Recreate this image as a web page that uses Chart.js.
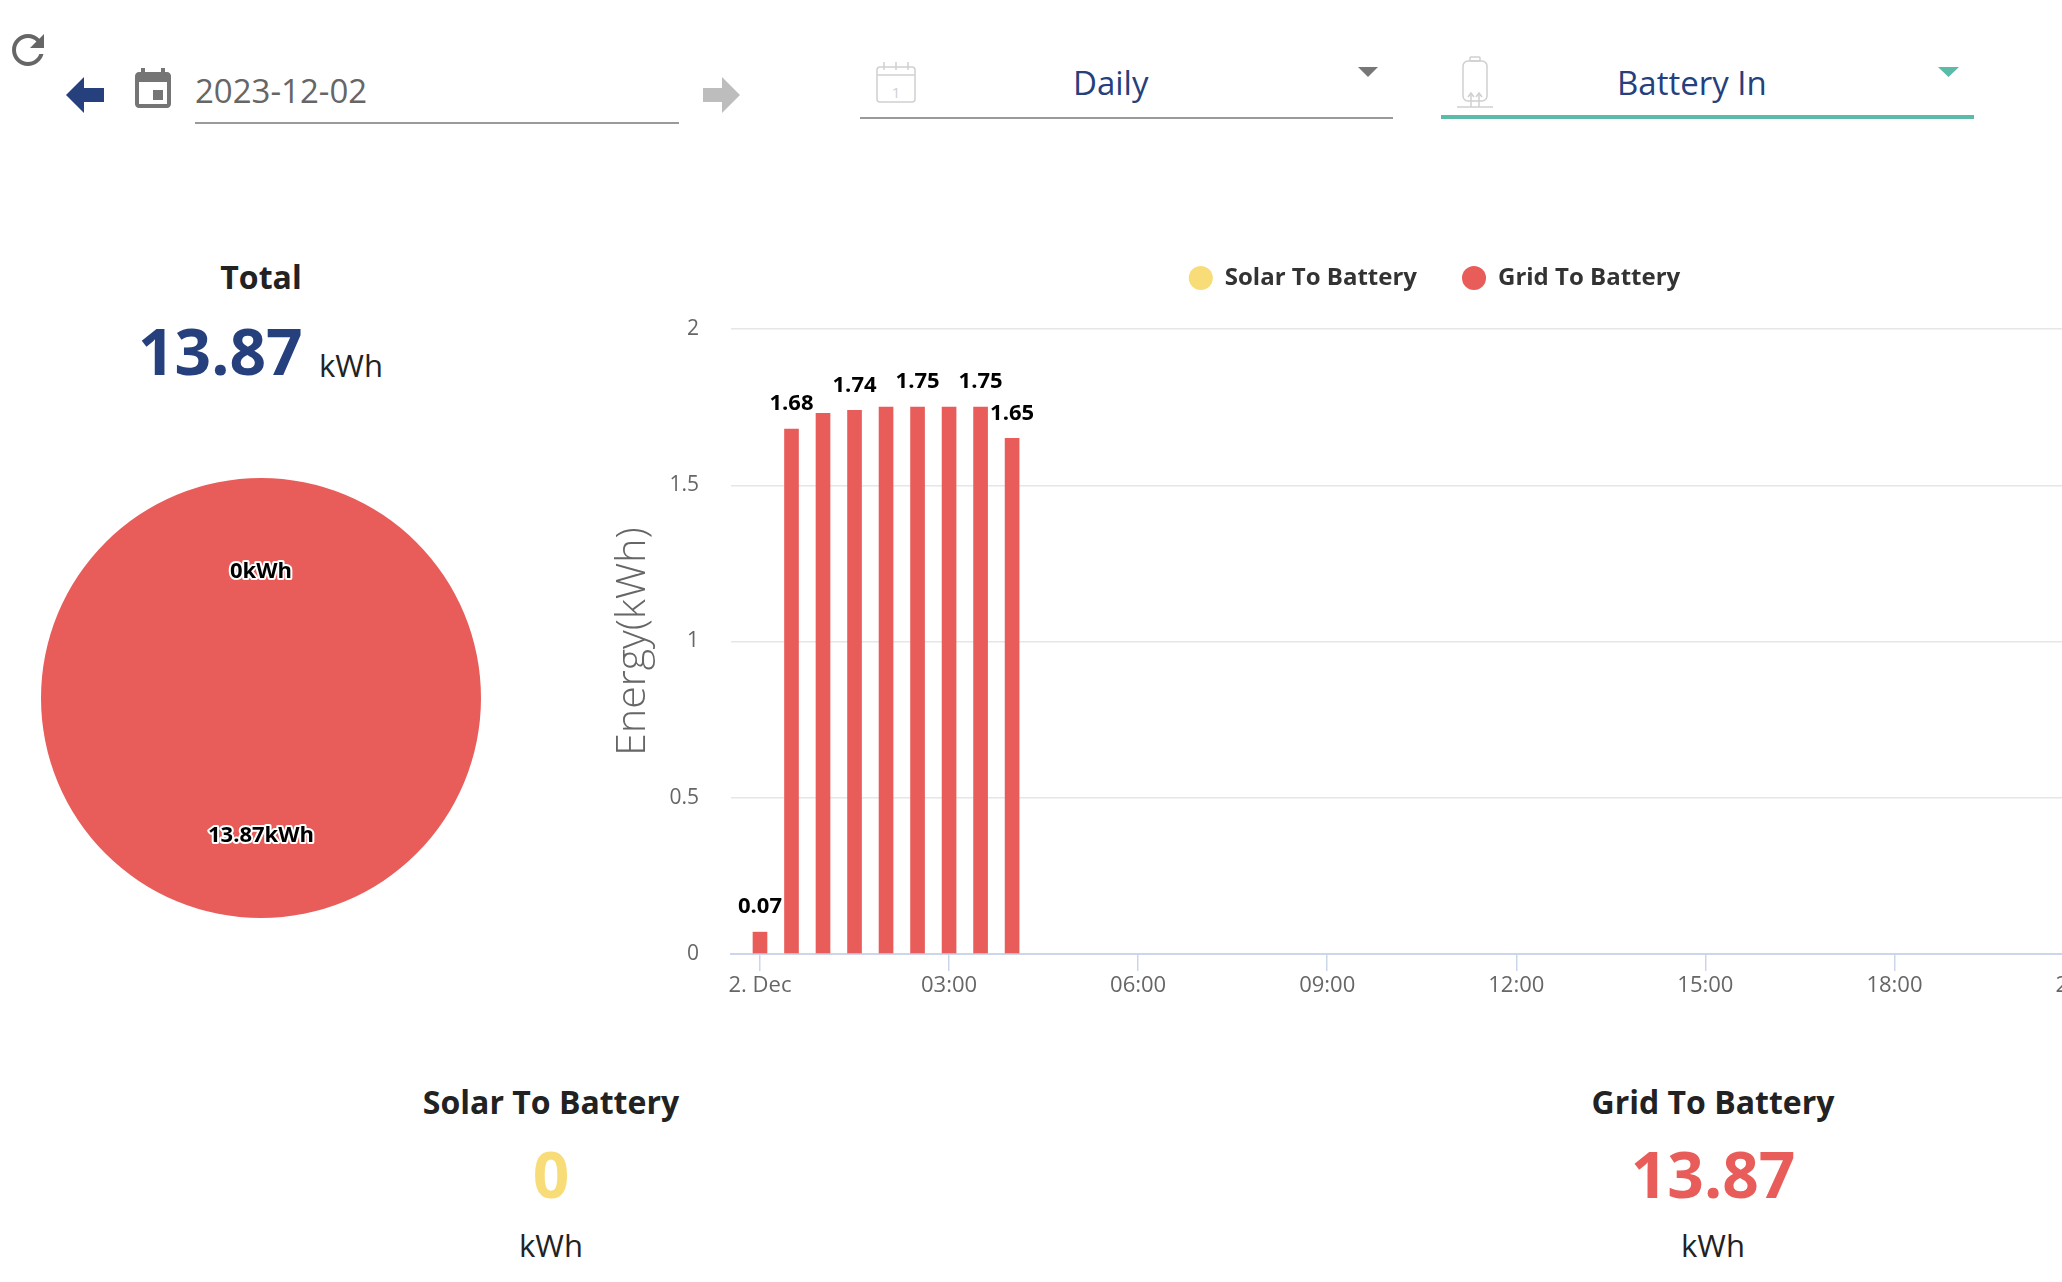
<!DOCTYPE html>
<html>
<head>
<meta charset="utf-8">
<script src="https://cdn.jsdelivr.net/npm/chart.js@4.4.0/dist/chart.umd.min.js"></script>
<style>
  html,body{margin:0;padding:0;background:#fff;}
  body{width:2062px;height:1282px;overflow:hidden;position:relative;font-family:"Open Sans",sans-serif;}
  .t{position:absolute;line-height:1;white-space:nowrap;}
  .c{text-align:center;width:500px;}
  .abs{position:absolute;}
</style>
</head>
<body>
<script>
// ---------- data ----------
const slotHours = [0, 0.5, 1, 1.5, 2, 2.5, 3, 3.5, 4];
const solarToBattery = [0, 0, 0, 0, 0, 0, 0, 0, 0];
const gridToBattery = [0.07, 1.68, 1.73, 1.74, 1.75, 1.75, 1.75, 1.75, 1.65];
const tickHours = [0, 3, 6, 9, 12, 15, 18, 21];
const tickLabels = ['2. Dec', '03:00', '06:00', '09:00', '12:00', '15:00', '18:00', '21:00'];
const yTicks = [0, 0.5, 1, 1.5, 2];
const seriesNames = ['Solar To Battery', 'Grid To Battery'];
const pieValues = [0, 13.87];
const totalValue = '13.87';
const solarTotal = '0';
const gridTotal = '13.87';
const dateText = '2023-12-02';
const periodText = 'Daily';
const modeText = 'Battery In';
</script>

<!-- header icons -->
<svg class="abs" style="left:4px;top:26px" width="48" height="48" viewBox="0 0 24 24"><path fill="#666" d="M17.65 6.35C16.2 4.9 14.21 4 12 4c-4.42 0-7.99 3.58-7.99 8s3.57 8 7.99 8c3.73 0 6.84-2.55 7.73-6h-2.08c-.82 2.33-3.04 4-5.650 4-3.31 0-6-2.69-6-6s2.69-6 6-6c1.66 0 3.14.69 4.22 1.78L13 11h7V4l-2.35 2.35z"/></svg>
<svg class="abs" style="left:0;top:0" width="800" height="140"><polygon fill="#25407c" points="66,95 84,77 84,88 104,88 104,102 84,102 84,113"/><polygon fill="#bdbdbd" points="740,95 722,77 722,88 703,88 703,102 722,102 722,113"/>
<rect x="195" y="122" width="484" height="2" fill="#9a9a9a"/></svg>
<svg class="abs" style="left:129px;top:66px" width="48" height="48" viewBox="0 0 24 24"><path fill="#757575" d="M17 12h-5v5h5v-5zM16 1v2H8V1H6v2H5c-1.11 0-1.99.9-1.99 2L3 19c0 1.1.89 2 2 2h14c1.1 0 2-.9 2-2V5c0-1.1-.9-2-2-2h-1V1h-2zm3 18H5V8h14v11z"/></svg>
<svg class="abs" style="left:0;top:0" width="2062" height="140">
  <g fill="none" stroke="#d0d0d0" stroke-width="1.5">
    <rect x="877" y="67" width="38" height="35" rx="3"/>
    <line x1="877" y1="75" x2="915" y2="75"/>
    <line x1="884" y1="62" x2="884" y2="70"/><line x1="896" y1="62" x2="896" y2="70"/><line x1="908" y1="62" x2="908" y2="70"/>
  </g>
  <text x="896" y="98" font-family="Open Sans" font-size="15" fill="#d0d0d0" text-anchor="middle">1</text>
  <rect x="860" y="117" width="533" height="2" fill="#9a9a9a"/>
  <polygon fill="#777" points="1358,67 1378,67 1368,77"/>
  <g fill="none" stroke="#cfcfcf" stroke-width="1.5">
    <rect x="1470" y="57" width="10" height="4" rx="1"/>
    <rect x="1463" y="61" width="24" height="40" rx="5"/>
    <line x1="1471" y1="107" x2="1471" y2="94"/><line x1="1479" y1="107" x2="1479" y2="94"/>
    <polyline points="1468,97 1471,93 1474,97"/><polyline points="1476,97 1479,93 1482,97"/>
    <line x1="1457" y1="107" x2="1493" y2="107"/>
  </g>
  <polygon fill="#5bbaa8" points="1938,67 1959,67 1948.5,77"/>
  <rect x="1441" y="115" width="533" height="4" fill="#5bbaa8"/>
</svg>

<div id="dateTxt" class="t" style="left:195px;top:74px;font-size:33px;color:#666;"></div>
<div id="periodTxt" class="t" style="left:1073px;top:66px;font-size:33px;color:#25407c;"></div>
<div id="modeTxt" class="t" style="left:1617px;top:66px;font-size:33px;color:#25407c;"></div>

<!-- left summary -->
<div class="t c" style="left:11px;top:261px;font-size:32px;font-weight:700;color:#222;">Total</div>
<div id="totalTxt" class="t" style="left:138px;top:319px;font-size:64px;font-weight:700;color:#25407c;"></div>
<div class="t" style="left:319px;top:350px;font-size:31px;color:#222;">kWh</div>

<div class="abs" style="left:41px;top:478px;width:440px;height:440px;"><canvas id="pie"></canvas></div>

<div class="abs" style="left:609px;top:221px;width:1651px;height:793px;"><canvas id="bar"></canvas></div>

<!-- bottom summary -->
<div class="t c" style="left:301px;top:1086px;font-size:32px;font-weight:700;color:#222;">Solar To Battery</div>
<div id="solarTxt" class="t c" style="left:301px;top:1142px;font-size:64px;font-weight:700;color:#f8dc77;"></div>
<div class="t c" style="left:301px;top:1230px;font-size:31px;color:#222;">kWh</div>
<div class="t c" style="left:1463px;top:1086px;font-size:32px;font-weight:700;color:#222;">Grid To Battery</div>
<div id="gridTxt" class="t c" style="left:1463px;top:1142px;font-size:64px;font-weight:700;color:#e85d5a;"></div>
<div class="t c" style="left:1463px;top:1230px;font-size:31px;color:#222;">kWh</div>

<script>
document.getElementById('dateTxt').textContent = dateText;
document.getElementById('periodTxt').textContent = periodText;
document.getElementById('modeTxt').textContent = modeText;
document.getElementById('totalTxt').textContent = totalValue;
document.getElementById('solarTxt').textContent = solarTotal;
document.getElementById('gridTxt').textContent = gridTotal;

const YELLOW = '#f8dc77';
const RED = '#e85d5a';
const FONT = '"Open Sans", sans-serif';

// ---------- pie ----------
const pieLabelPlugin = {
  id: 'pieLabelPlugin',
  afterDatasetsDraw(chart) {
    const ctx = chart.ctx;
    const meta = chart.getDatasetMeta(0);
    meta.data.forEach((arc, i) => {
      const p = arc.getProps(['x', 'y', 'startAngle', 'endAngle', 'outerRadius'], true);
      const mid = (p.startAngle + p.endAngle) / 2;
      const r = p.outerRadius * 0.6;
      const lx = p.x + Math.cos(mid) * r;
      const ly = p.y + Math.sin(mid) * r + 6;
      const text = pieValues[i] + 'kWh';
      ctx.save();
      ctx.font = 'bold 22px ' + FONT;
      ctx.textAlign = 'center';
      ctx.textBaseline = 'middle';
      ctx.lineJoin = 'round';
      ctx.strokeStyle = '#fff';
      ctx.lineWidth = 4;
      ctx.strokeText(text, lx, ly);
      ctx.fillStyle = '#000';
      ctx.fillText(text, lx, ly);
      ctx.restore();
    });
  }
};

new Chart(document.getElementById('pie'), {
  type: 'pie',
  data: {
    labels: seriesNames,
    datasets: [{ data: pieValues, backgroundColor: [YELLOW, RED], borderWidth: 0 }]
  },
  options: {
    responsive: true,
    maintainAspectRatio: false,
    animation: false,
    layout: { padding: 0 },
    plugins: { legend: { display: false }, tooltip: { enabled: false } }
  },
  plugins: [pieLabelPlugin]
});

// ---------- bar ----------
const LEGEND_H = 108;
const legendHeightPlugin = {
  id: 'legendHeightPlugin',
  afterInit(chart) {
    const lg = chart.legend;
    if (!lg) return;
    const f = lg.fit.bind(lg);
    lg.fit = function () { f(); this.height = LEGEND_H; };
  }
};

const barLabelPlugin = {
  id: 'barLabelPlugin',
  afterDatasetsDraw(chart) {
    const ctx = chart.ctx;
    const meta = chart.getDatasetMeta(1);
    const boxes = [];
    ctx.save();
    ctx.font = 'bold 22px ' + FONT;
    ctx.textAlign = 'center';
    ctx.textBaseline = 'middle';
    meta.data.forEach((bar, i) => {
      const v = gridToBattery[i];
      if (!v) return;
      const text = v.toFixed(2);
      const w = ctx.measureText(text).width + 6, h = 26;
      const cx = bar.x, cy = bar.y - 25;
      const box = { l: cx - w / 2, r: cx + w / 2, t: cy - h / 2, b: cy + h / 2 };
      const hit = boxes.some(b => !(box.l >= b.r || box.r <= b.l || box.t >= b.b || box.b <= b.t));
      if (hit) return;
      boxes.push(box);
      ctx.lineJoin = 'round';
      ctx.strokeStyle = '#fff';
      ctx.lineWidth = 3;
      ctx.strokeText(text, cx, cy);
      ctx.fillStyle = '#000';
      ctx.fillText(text, cx, cy);
    });
    ctx.restore();
  }
};

new Chart(document.getElementById('bar'), {
  type: 'bar',
  data: {
    datasets: [
      { label: seriesNames[0], data: slotHours.map((h, i) => ({ x: h, y: solarToBattery[i] })), backgroundColor: YELLOW, borderWidth: 0, barThickness: 14, grouped: false },
      { label: seriesNames[1], data: slotHours.map((h, i) => ({ x: h, y: gridToBattery[i] })), backgroundColor: RED, borderWidth: 0, barThickness: 14, grouped: false }
    ]
  },
  options: {
    responsive: true,
    maintainAspectRatio: false,
    animation: false,
    layout: { padding: 0 },
    plugins: {
      tooltip: { enabled: false },
      legend: {
        position: 'top',
        align: 'center',
        labels: {
          usePointStyle: true,
          pointStyle: 'circle',
          boxWidth: 24,
          boxHeight: 17,
          padding: 45,
          color: '#333',
          font: { family: FONT, size: 24, weight: 'bold' }
        }
      }
    },
    scales: {
      x: {
        type: 'linear',
        offset: false,
        min: -0.46,
        max: 23.8,
        afterBuildTicks(scale) { scale.ticks = tickHours.map(v => ({ value: v })); },
        afterFit(scale) { scale.height = 60; },
        ticks: {
          autoSkip: false,
          maxRotation: 0,
          padding: 2,
          color: '#666',
          font: { family: FONT, size: 22 },
          callback: (v) => tickLabels[tickHours.indexOf(v)]
        },
        grid: { display: true, offset: false, drawOnChartArea: false, drawTicks: true, tickLength: 17, color: '#ccd6eb', lineWidth: 1.5 },
        border: { display: true, color: '#ccd6eb', width: 2 }
      },
      y: {
        min: 0,
        max: 2,
        afterBuildTicks(scale) { scale.ticks = yTicks.map(v => ({ value: v })); },
        afterFit(scale) { scale.width = 122; },
        ticks: {
          padding: 32,
          color: '#666',
          font: { family: FONT, size: 21 },
          callback: (v) => String(v)
        },
        grid: { color: '#e6e6e6', lineWidth: 1.5, drawTicks: false },
        border: { display: false },
        title: {
          display: true,
          text: 'Energy(kWh)',
          color: '#666',
          padding: { top: 0, bottom: 0 },
          font: { family: FONT, size: 41, weight: '300' }
        }
      }
    }
  },
  plugins: [legendHeightPlugin, barLabelPlugin]
});
</script>
</body>
</html>
